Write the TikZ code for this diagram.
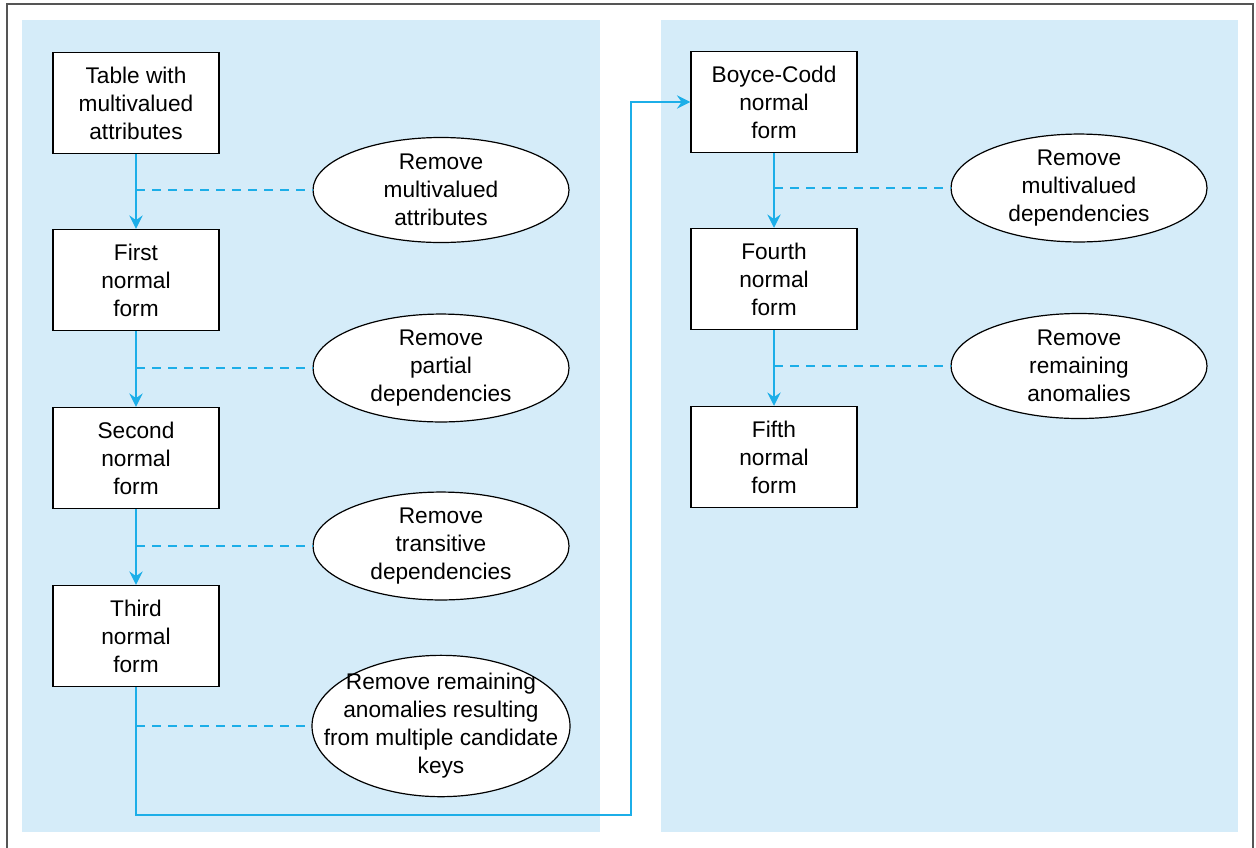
\documentclass[tikz,border=0pt]{standalone}
\usepackage{fontspec}
\setmainfont{Liberation Sans}
\usetikzlibrary{shapes.geometric,arrows.meta}
\definecolor{panelblue}{RGB}{213,236,249}
\definecolor{linkblue}{RGB}{28,174,232}
\definecolor{framegray}{RGB}{85,85,85}
\tikzset{
  formbox/.style={draw=black,line width=1.1pt,fill=white,align=center,
    minimum width=124.5pt,minimum height=75.75pt,inner sep=0pt},
  stepoval/.style={ellipse,draw=black,line width=0.9pt,fill=white,align=center,
    minimum width=192pt,minimum height=78.75pt,inner sep=0pt},
  flow/.style={linkblue,line width=1.2pt,-{Stealth[length=10pt,width=10pt,inset=3.5pt]}},
  hint/.style={linkblue,line width=1pt,dash pattern=on 7pt off 5pt}
}
\begin{document}
\begin{tikzpicture}[x=0.75pt,y=-0.75pt,font=\fontsize{17}{21}\selectfont]
\useasboundingbox (0,0) rectangle (1256,847);
\draw[framegray,line width=1.5pt] (7,850) -- (7,4) -- (1253,4) -- (1253,850);
\fill[panelblue] (22,20) rectangle (600,832);
\fill[panelblue] (661,20) rectangle (1238,832);

\node[formbox] (tab) at (136,103) {Table with\\multivalued\\attributes};
\node[formbox] (nf1) at (136,280) {First\\normal\\form};
\node[formbox] (nf2) at (136,458) {Second\\normal\\form};
\node[formbox] (nf3) at (136,636) {Third\\normal\\form};
\node[formbox] (bcnf) at (774,102) {Boyce-Codd\\normal\\form};
\node[formbox] (nf4) at (774,279) {Fourth\\normal\\form};
\node[formbox] (nf5) at (774,457) {Fifth\\normal\\form};

\node[stepoval] (rm1) at (441,190) {Remove\\multivalued\\attributes};
\node[stepoval] (rm2) at (441,368) {Remove\\partial\\dependencies};
\node[stepoval] (rm3) at (441,546) {Remove\\transitive\\dependencies};
\node[stepoval,inner xsep=-23pt,inner ysep=-8pt,minimum width=193.5pt,minimum height=106pt] (rm4) at (441,726)
  {Remove remaining\\anomalies resulting\\from multiple candidate\\keys};
\node[stepoval] (rm5) at (1079,188) {Remove\\multivalued\\dependencies};
\node[stepoval] (rm6) at (1079,366) {Remove\\remaining\\anomalies};

\draw[flow] (tab) -- (nf1);
\draw[flow] (nf1) -- (nf2);
\draw[flow] (nf2) -- (nf3);
\draw[flow] (bcnf) -- (nf4);
\draw[flow] (nf4) -- (nf5);

\draw[hint] (tab.south |- rm1) -- (rm1.west);
\draw[hint] (nf1.south |- rm2) -- (rm2.west);
\draw[hint] (nf2.south |- rm3) -- (rm3.west);
\draw[hint] (nf3.south |- rm4) -- (rm4.west);
\draw[hint] (bcnf.south |- rm5) -- (rm5.west);
\draw[hint] (nf4.south |- rm6) -- (rm6.west);

\coordinate (turn) at (631,815);
\draw[flow] (nf3.south) |- (turn) |- (bcnf.west);
\end{tikzpicture}
\end{document}
